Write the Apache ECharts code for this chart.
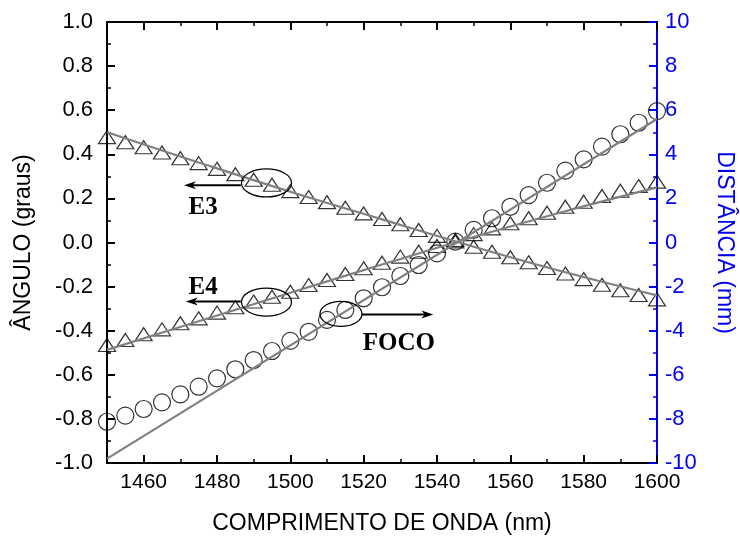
<!DOCTYPE html>
<html>
<head>
<meta charset="utf-8">
<script src="https://cdn.jsdelivr.net/npm/echarts@6/dist/echarts.min.js"></script>
<style>
  html, body { margin: 0; padding: 0; background: #fff; }
  #chart { width: 740px; height: 538px; }
</style>
</head>
<body>
<div id="chart"></div>
<script>
// Wavelength samples (nm)
const wavelength = [1450, 1455, 1460, 1465, 1470, 1475, 1480, 1485, 1490, 1495, 1500,
  1505, 1510, 1515, 1520, 1525, 1530, 1535, 1540, 1545, 1550,
  1555, 1560, 1565, 1570, 1575, 1580, 1585, 1590, 1595, 1600];

// Angle of output E3 (degrees)
const angleE3 = [0.478, 0.455, 0.432, 0.408, 0.382, 0.360, 0.334, 0.310, 0.285, 0.262, 0.233,
  0.206, 0.183, 0.158, 0.132, 0.107, 0.083, 0.057, 0.030, 0.005, -0.019,
  -0.042, -0.067, -0.090, -0.116, -0.141, -0.166, -0.192, -0.217, -0.238, -0.258];

// Angle of output E4 (degrees)
const angleE4 = [-0.465, -0.442, -0.416, -0.394, -0.366, -0.344, -0.318, -0.294, -0.268, -0.246, -0.223,
  -0.193, -0.170, -0.143, -0.117, -0.092, -0.064, -0.042, -0.016, 0.011, 0.038,
  0.064, 0.087, 0.110, 0.135, 0.162, 0.185, 0.211, 0.235, 0.256, 0.276];

// Focal distance (mm)
const focusDist = [-8.13, -7.85, -7.55, -7.25, -6.89, -6.54, -6.16, -5.75, -5.33, -4.92, -4.46,
  -4.05, -3.51, -3.06, -2.53, -2.03, -1.52, -1.02, -0.49, 0.04, 0.57,
  1.10, 1.62, 2.15, 2.71, 3.26, 3.77, 4.35, 4.91, 5.43, 5.96];

// Fitted curves
const fitX = [1450, 1475, 1500, 1525, 1550, 1575, 1600];
const fitE3 = [0.500, 0.363, 0.230, 0.105, -0.019, -0.135, -0.240];
const fitE4 = [-0.487, -0.357, -0.228, -0.100, 0.025, 0.142, 0.250];
const focusFitX = [1450, 1600];
const focusFit = [-9.8, 5.6];

// Axis tick values
const xMajorTicks = [1460, 1480, 1500, 1520, 1540, 1560, 1580, 1600];
const xMinorTicks = [1450, 1470, 1490, 1510, 1530, 1550, 1570, 1590];

const FONT = 'Liberation Sans';
const BLUE = '#0000ee';
const GRAY = '#808080';

const pairs = (xs, ys) => xs.map((x, i) => [x, ys[i]]);

const chart = echarts.init(document.getElementById('chart'), null, { renderer: 'canvas' });

const xBase = {
  type: 'value', min: 1450, max: 1600, gridIndex: 0,
  splitLine: { show: false },
  axisLine: { onZero: false, lineStyle: { color: '#000', width: 2 } }
};

const option = {
  animation: false,
  backgroundColor: '#fff',
  grid: {
    left: 107, right: 83, top: 22, bottom: 75,
    outerBoundsMode: 'none', containLabel: false,
    show: true, borderColor: '#000', borderWidth: 2, backgroundColor: 'transparent'
  },
  xAxis: [
    Object.assign({}, xBase, {
      position: 'bottom',
      name: 'COMPRIMENTO DE ONDA (nm)',
      nameLocation: 'middle', nameGap: 49,
      nameTextStyle: { fontFamily: FONT, fontSize: 23, color: '#000' },
      axisTick: { inside: true, length: 8, customValues: xMajorTicks, lineStyle: { color: '#000', width: 2 } },
      axisLabel: { customValues: xMajorTicks, fontFamily: FONT, fontSize: 21, color: '#000', margin: 9,
        formatter: v => String(v) }
    }),
    Object.assign({}, xBase, {
      position: 'bottom',
      axisTick: { inside: true, length: 4, customValues: xMinorTicks, lineStyle: { color: '#000', width: 1.5 } },
      axisLabel: { show: false }
    }),
    Object.assign({}, xBase, {
      position: 'top',
      axisTick: { inside: true, length: 8, customValues: xMajorTicks, lineStyle: { color: '#000', width: 2 } },
      axisLabel: { show: false }
    }),
    Object.assign({}, xBase, {
      position: 'top',
      axisTick: { inside: true, length: 4, customValues: xMinorTicks, lineStyle: { color: '#000', width: 1.5 } },
      axisLabel: { show: false }
    })
  ],
  yAxis: [
    {
      type: 'value', min: -1, max: 1, interval: 0.2, position: 'left',
      name: 'ÂNGULO (graus)', nameLocation: 'middle', nameGap: 72, nameRotate: 90,
      nameTextStyle: { fontFamily: FONT, fontSize: 23, color: '#000' },
      splitLine: { show: false },
      axisLine: { show: true, onZero: false, lineStyle: { color: '#000', width: 2 } },
      axisTick: { inside: true, length: 8, lineStyle: { color: '#000', width: 2 } },
      minorTick: { show: true, splitNumber: 2, length: 4, lineStyle: { color: '#000', width: 1.5 } },
      axisLabel: { fontFamily: FONT, fontSize: 22, color: '#000', margin: 14,
        formatter: v => v.toFixed(1) }
    },
    {
      type: 'value', min: -10, max: 10, interval: 2, position: 'right',
      name: 'DISTÂNCIA (mm)', nameLocation: 'middle', nameGap: 56, nameRotate: -90,
      nameTextStyle: { fontFamily: FONT, fontSize: 23, color: BLUE },
      splitLine: { show: false },
      axisLine: { show: true, onZero: false, lineStyle: { color: BLUE, width: 2 } },
      axisTick: { inside: true, length: 8, lineStyle: { color: BLUE, width: 2 } },
      minorTick: { show: true, splitNumber: 2, length: 4, lineStyle: { color: BLUE, width: 1.5 } },
      axisLabel: { fontFamily: FONT, fontSize: 22, color: BLUE, margin: 8 }
    }
  ],
  series: [
    {
      name: 'E3', type: 'scatter', xAxisIndex: 0, yAxisIndex: 0,
      data: pairs(wavelength, angleE3),
      symbol: 'triangle', symbolSize: [17, 13],
      itemStyle: { color: 'rgba(0,0,0,0)', borderColor: '#000', borderWidth: 1.2 },
      z: 2
    },
    {
      name: 'E4', type: 'scatter', xAxisIndex: 0, yAxisIndex: 0,
      data: pairs(wavelength, angleE4),
      symbol: 'triangle', symbolSize: [17, 13],
      itemStyle: { color: 'rgba(0,0,0,0)', borderColor: '#000', borderWidth: 1.2 },
      z: 2
    },
    {
      name: 'FOCO', type: 'scatter', xAxisIndex: 0, yAxisIndex: 1,
      data: pairs(wavelength, focusDist),
      symbol: 'circle', symbolSize: 17,
      itemStyle: { color: 'rgba(0,0,0,0)', borderColor: '#000', borderWidth: 1.2 },
      z: 2
    },
    {
      name: 'E3 ajuste', type: 'line', xAxisIndex: 0, yAxisIndex: 0,
      data: pairs(fitX, fitE3), smooth: 0.4, showSymbol: false,
      lineStyle: { color: GRAY, width: 2.2 }, z: 3
    },
    {
      name: 'E4 ajuste', type: 'line', xAxisIndex: 0, yAxisIndex: 0,
      data: pairs(fitX, fitE4), smooth: 0.4, showSymbol: false,
      lineStyle: { color: GRAY, width: 2.2 }, z: 3
    },
    {
      name: 'FOCO ajuste', type: 'line', xAxisIndex: 0, yAxisIndex: 1,
      data: pairs(focusFitX, focusFit), showSymbol: false,
      lineStyle: { color: GRAY, width: 2.2 }, z: 3
    }
  ]
};

chart.setOption(option);

// Annotations: ellipse around marked points, arrow and bold label, placed in data space
const notes = [
  { text: 'E3', axis: 0, center: [1493.5, 0.27], rx: 25, ry: 14, arrow: [[1486.5, 0.26], [1471, 0.26]], label: [1476.2, 0.16] },
  { text: 'E4', axis: 0, center: [1493.5, -0.27], rx: 25, ry: 14, arrow: [[1486.5, -0.268], [1471.5, -0.268]], label: [1476.2, -0.205] },
  { text: 'FOCO', axis: 1, center: [1513.8, -3.24], rx: 21, ry: 12.5, arrow: [[1519.5, -3.27], [1539, -3.27]], label: [1529.6, -4.6] }
];

function px(pt, axis) {
  return chart.convertToPixel({ xAxisIndex: 0, yAxisIndex: axis }, pt);
}

const elements = [];
notes.forEach(n => {
  const c = px(n.center, n.axis);
  elements.push({
    type: 'ellipse', shape: { cx: c[0], cy: c[1], rx: n.rx, ry: n.ry },
    style: { fill: null, stroke: '#000', lineWidth: 1.2 }, z: 10
  });
  const a0 = px(n.arrow[0], n.axis);
  const a1 = px(n.arrow[1], n.axis);
  const dir = Math.sign(a1[0] - a0[0]);
  const headLen = 12, headHalf = 4;
  elements.push({
    type: 'line', shape: { x1: a0[0], y1: a0[1], x2: a1[0] - dir * headLen * 0.6, y2: a1[1] },
    style: { stroke: '#000', lineWidth: 2 }, z: 10
  });
  elements.push({
    type: 'polygon',
    shape: { points: [[a1[0], a1[1]], [a1[0] - dir * headLen, a1[1] - headHalf], [a1[0] - dir * headLen * 0.7, a1[1]], [a1[0] - dir * headLen, a1[1] + headHalf]] },
    style: { fill: '#000' }, z: 10
  });
  const t = px(n.label, n.axis);
  elements.push({
    type: 'text', x: t[0], y: t[1],
    style: { text: n.text, font: 'bold 25px "Liberation Serif"', fill: '#000', align: 'center', verticalAlign: 'middle' },
    z: 10
  });
});

chart.setOption({ graphic: { elements } });
</script>
</body>
</html>
